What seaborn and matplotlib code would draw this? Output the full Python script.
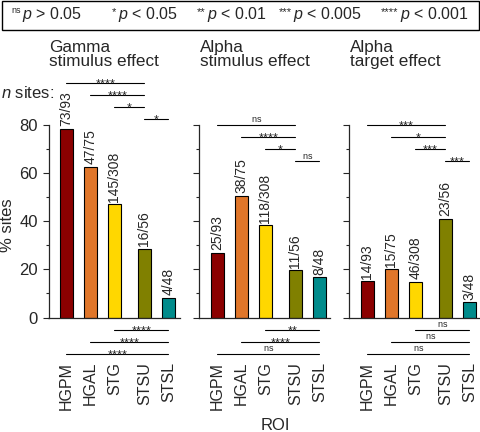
import numpy as np
import pandas as pd
import matplotlib
matplotlib.use("Agg")
import matplotlib.pyplot as plt
from matplotlib.patches import Rectangle
from matplotlib.ticker import MultipleLocator
import seaborn as sns

# ── data ─────────────────────────────────────────────────────────────
ROIS = ["HGPM", "HGAL", "STG", "STSU", "STSL"]
POS = [0, 1, 2, 3.25, 4.25]          # gap between STG and STSU
COLORS = ["#8b0000", "#e0762a", "#ffd700", "#808000", "#008b8b"]

TITLES = ["Gamma\nstimulus effect", "Alpha\nstimulus effect", "Alpha\ntarget effect"]

gamma_stim = [78.5, 62.7, 47.1, 28.6, 8.3]
alpha_stim = [26.9, 50.7, 38.3, 19.6, 16.7]
alpha_targ = [15.1, 20.0, 14.9, 41.1, 6.3]

gamma_n = ["73/93", "47/75", "145/308", "16/56", "4/48"]
alpha_stim_n = ["25/93", "38/75", "118/308", "11/56", "8/48"]
alpha_targ_n = ["14/93", "15/75", "46/308", "23/56", "3/48"]

# significance brackets: (from bar, to bar, y level, label)
gamma_top = [(0, 3, 97.5, "****"), (1, 3, 92.5, "****"), (2, 3, 87.5, "*"), (3, 4, 82.5, "*")]
gamma_bot = [(2, 4, -5, "****"), (1, 4, -10, "****"), (0, 4, -15, "****")]
astim_top = [(0, 3, 80, "ns"), (1, 3, 75, "****"), (2, 3, 70, "*"), (3, 4, 65, "ns")]
astim_bot = [(2, 4, -5, "**"), (1, 4, -10, "****"), (0, 4, -15, "ns")]
atarg_top = [(0, 3, 80, "***"), (1, 3, 75, "*"), (2, 3, 70, "***"), (3, 4, 65, "***")]
atarg_bot = [(2, 4, -5, "ns"), (1, 4, -10, "ns"), (0, 4, -15, "ns")]

LEG_SUP = ["ns", "*", "**", "***", "****"]
LEG_TXT = ["> 0.05", "< 0.05", "< 0.01", "< 0.005", "< 0.001"]

panels = [
    (gamma_stim, gamma_n, gamma_top, gamma_bot),
    (alpha_stim, alpha_stim_n, astim_top, astim_bot),
    (alpha_targ, alpha_targ_n, atarg_top, atarg_bot),
]

# ── style ────────────────────────────────────────────────────────────
sns.set_style("ticks")
plt.rcParams["font.family"] = ["Liberation Sans", "DejaVu Sans"]
plt.rcParams["mathtext.fontset"] = "custom"
plt.rcParams["mathtext.rm"] = "Liberation Sans"
plt.rcParams["mathtext.it"] = "Liberation Sans:italic"

W, H = 481, 432
fig = plt.figure(figsize=(W / 100, H / 100), dpi=100)


def fx(x):
    return x / W


def fy(y):
    return 1 - y / H


def sig_text(lab):
    if lab == "ns":
        return r"$\mathrm{ns}$"
    return "$" + "{*}" * len(lab) + "$"


AX_LEFT = [48.5, 199.5, 349.5]
AX_W = 131
AX_TOP, AX_BOT = 125, 317.5

for k, (vals, ns, top, bot) in enumerate(panels):
    ax = fig.add_axes([fx(AX_LEFT[k]), fy(AX_BOT), AX_W / W, (AX_BOT - AX_TOP) / H])
    df = pd.DataFrame({"roi": ROIS, "pos": POS, "pct": vals})
    sns.barplot(data=df, x="pos", y="pct", hue="roi", hue_order=ROIS,
                palette=dict(zip(ROIS, COLORS)), native_scale=True, dodge=False,
                width=0.53, edgecolor="black", linewidth=0.8, legend=False,
                saturation=1, ax=ax)
    ax.set_xlim(-0.75, 4.71)
    ax.set_ylim(0, 80)
    ax.yaxis.set_major_locator(MultipleLocator(20))
    ax.yaxis.set_minor_locator(MultipleLocator(10))
    ax.tick_params(axis="y", which="major", length=4, width=0.8, labelsize=12)
    ax.tick_params(axis="y", which="minor", length=2.5, width=0.8)
    ax.set_xticks(POS)
    ax.set_xticklabels(ROIS, rotation=90, fontsize=11.5)
    ax.tick_params(axis="x", length=0, pad=32)
    if k > 0:
        ax.set_yticklabels([])
    ax.set_xlabel("")
    ax.set_ylabel("")
    sns.despine(ax=ax)
    for sp in ax.spines.values():
        sp.set_linewidth(0.9)

    for p, v, lab in zip(POS, vals, ns):
        ax.text(p, v + 1, lab, rotation=90, ha="center", va="bottom",
                fontsize=10, clip_on=False)

    for i, j, y, lab in top + bot:
        ax.plot([POS[i], POS[j]], [y, y], color="black", lw=0.8, clip_on=False)
        if lab == "ns":
            off, fs = 1.8, 6.5
        else:
            off, fs = -2.6, 9
        ax.annotate(sig_text(lab), ((POS[i] + POS[j]) / 2, y), xytext=(0, off),
                    textcoords="offset points", ha="center", va="baseline",
                    fontsize=fs, annotation_clip=False)

    fig.text(fx(AX_LEFT[k] + 0.5), fy(40), TITLES[k], ha="left", va="top",
             fontsize=12.3, linespacing=0.95)

# labels around the panels
fig.text(fx(1), fy(98), "$n$ sites:", ha="left", va="baseline", fontsize=12)
fig.text(fx(8), fy(225), "% sites", rotation=90, ha="center", va="center", fontsize=12)
fig.text(fx(275), fy(425), "ROI", ha="center", va="center", fontsize=12)

# p-value key box
fig.add_artist(Rectangle((fx(2), fy(30)), 477 / W, 29 / H, transform=fig.transFigure,
                         fill=False, lw=1, edgecolor="black"))
P_START = [22, 118, 207, 293, 400]
for x0, sup, txt in zip(P_START, LEG_SUP, LEG_TXT):
    if sup == "ns":
        fig.text(fx(x0 - 1.5), fy(13), sup, ha="right", va="baseline", fontsize=6.5)
    else:
        fig.text(fx(x0 - 1.5), fy(15), sup, ha="right", va="baseline", fontsize=8)
    fig.text(fx(x0), fy(18.5), "$p$ " + txt, ha="left", va="baseline", fontsize=11.5)

fig.savefig("out.png", dpi=100)
